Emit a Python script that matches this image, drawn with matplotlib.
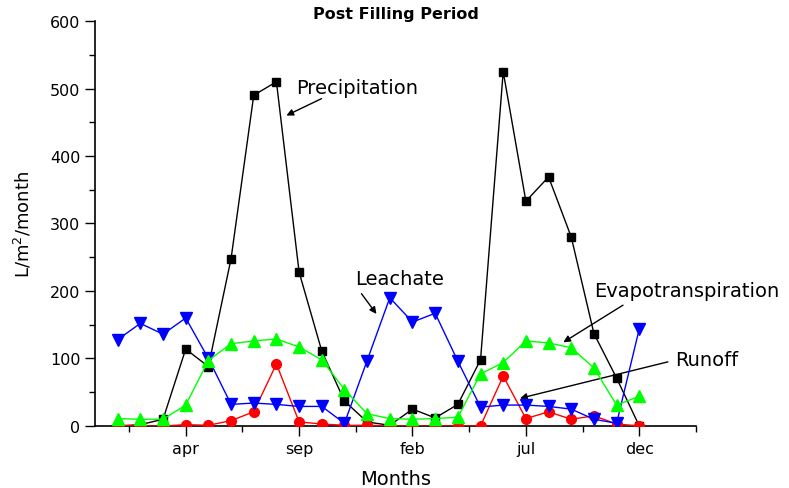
import matplotlib
matplotlib.use("Agg")
import matplotlib.pyplot as plt

months = list(range(24))
tick_pos = [3, 8, 13, 18, 23]
tick_labels = ["apr", "sep", "feb", "jul", "dec"]

precipitation = [0, 2, 10, 114, 88, 248, 490, 510, 228, 111, 37, 6,
                 1, 25, 12, 32, 98, 525, 333, 369, 280, 137, 71, 0]
runoff = [1, 0, 0, 2, 1, 8, 21, 92, 6, 3, 1, 1,
          0, 0, 0, 0, 0, 74, 11, 21, 10, 15, 3, 0]
leachate = [128, 152, 136, 160, 100, 32, 34, 32, 29, 29, 4, 97,
            190, 154, 167, 96, 28, 31, 31, 29, 25, 10, 4, 144]
evapo = [11, 10, 10, 31, 97, 122, 126, 129, 117, 98, 54, 18,
         11, 10, 11, 13, 77, 94, 126, 123, 116, 86, 31, 44]

plt.rcParams["font.family"] = "DejaVu Sans"

fig = plt.figure(figsize=(7.89, 4.89), dpi=100)
ax = fig.add_axes([0.1204, 0.1268, 0.7617, 0.8282])

ax.plot(months, precipitation, "-s", color="black", lw=1, ms=5.5, zorder=2)
ax.plot(months, runoff, "-o", color="#ff0000", lw=1, ms=7, zorder=3)
ax.plot(months, leachate, "-v", color="#0000ff", lw=1, ms=9, zorder=4)
ax.plot(months, evapo, "-^", color="#00ff00", lw=1, ms=9, zorder=5)

ax.set_xlim(-1, 25.5)
ax.set_ylim(0, 600)
ax.set_xticks(tick_pos)
ax.set_xticklabels(tick_labels)
ax.set_xticks([0.5, 5.5, 10.5, 15.5, 20.5, 25.5], minor=True)
ax.set_yticks(range(0, 601, 100))
ax.set_yticks(range(50, 600, 100), minor=True)
ax.tick_params(which="major", length=7, width=1, labelsize=11.5, direction="out")
ax.tick_params(which="minor", length=4, width=1, direction="out")
ax.spines["top"].set_visible(False)
ax.spines["right"].set_visible(False)
ax.spines["left"].set_linewidth(1.2)
ax.spines["bottom"].set_linewidth(1.2)

ax.set_xlabel("Months", fontsize=14, labelpad=10)
ax.set_ylabel("L/m$^2$/month", fontsize=13, labelpad=12)
ax.set_title("Post Filling Period", fontsize=11.5, fontweight="bold", pad=0)

# labels with arrows pointing at each series
arrow = dict(arrowstyle="-|>", color="black", lw=1, mutation_scale=10, shrinkA=0, shrinkB=0)
ax.annotate("", xy=(7.44, 460), xytext=(8.99, 485), arrowprops=arrow)
ax.text(10.54, 502, "Precipitation", fontsize=14, ha="center", va="center")
ax.annotate("", xy=(11.41, 166), xytext=(10.75, 196), arrowprops=arrow)
ax.text(12.44, 218, "Leachate", fontsize=14, ha="center", va="center")
ax.annotate("", xy=(19.65, 124), xytext=(22.28, 179), arrowprops=arrow, annotation_clip=False)
ax.text(25.1, 201, "Evapotranspiration", fontsize=14, ha="center", va="center")
ax.annotate("", xy=(17.74, 41), xytext=(24.26, 95), arrowprops=arrow, annotation_clip=False)
ax.text(25.98, 99, "Runoff", fontsize=14, ha="center", va="center")

fig.savefig("out.png", dpi=100)
